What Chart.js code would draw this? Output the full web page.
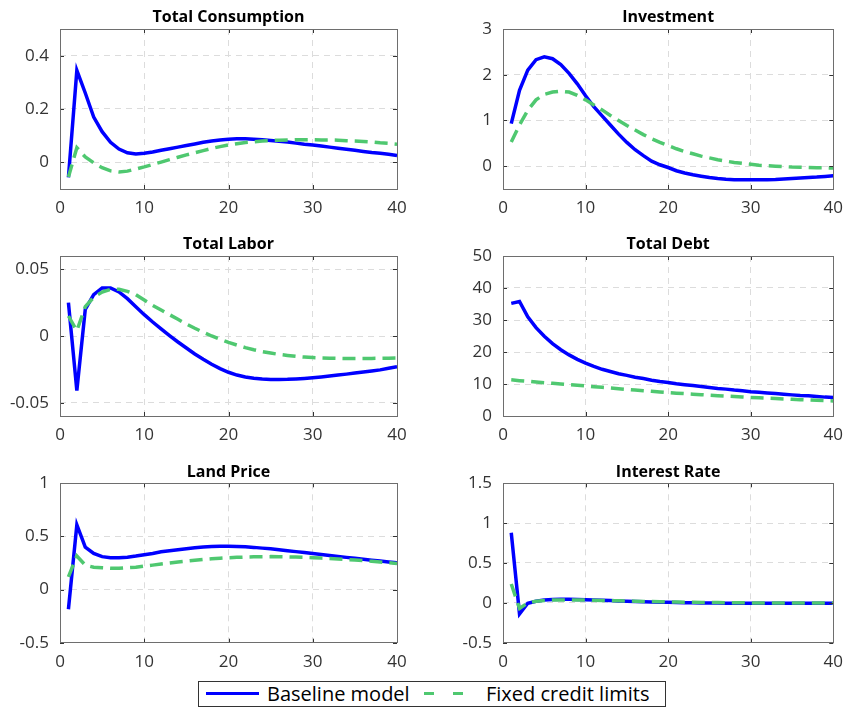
<!DOCTYPE html>
<html>
<head>
<meta charset="utf-8">
<script src="https://cdn.jsdelivr.net/npm/chart.js@4.4.1/dist/chart.umd.min.js"></script>
<style>
  body { margin: 0; background: #fff; width: 852px; height: 718px; position: relative; overflow: hidden; font-family: "Open Sans", sans-serif; }
  canvas { position: absolute; }
  #legend { position: absolute; left: 198px; top: 681px; width: 466px; height: 24px; border: 1px solid #333; background: #fff; }
  #legend span { position: absolute; top: -1px; line-height: 25px; font-size: 20px; color: #000; white-space: nowrap; }
  #legend i { position: absolute; height: 3px; }
</style>
</head>
<body>
<canvas id="c1" width="420" height="230" style="left:0;top:0"></canvas>
<canvas id="c2" width="432" height="230" style="left:420px;top:0"></canvas>
<canvas id="c3" width="420" height="230" style="left:0;top:230px"></canvas>
<canvas id="c4" width="432" height="230" style="left:420px;top:230px"></canvas>
<canvas id="c5" width="420" height="215" style="left:0;top:460px"></canvas>
<canvas id="c6" width="432" height="215" style="left:420px;top:460px"></canvas>

<div id="legend">
  <i style="left:7px;top:10px;width:53px;background:#0000ff"></i>
  <span style="left:68px">Baseline model</span>
  <i style="left:225px;top:10px;width:10px;background:#4fc870"></i>
  <i style="left:254px;top:10px;width:10px;background:#4fc870"></i>
  <span style="left:287px">Fixed credit limits</span>
</div>

<script>
// periodos (eje x)
var steps = [1, 2, 3, 4, 5, 6, 7, 8, 9, 10, 11, 12, 13, 14, 15, 16, 17, 18, 19, 20,
  21, 22, 23, 24, 25, 26, 27, 28, 29, 30, 31, 32, 33, 34, 35, 36, 37, 38, 39, 40];
var xTicks = [0, 10, 20, 30, 40];

// Total Consumption
var consTicks = [0, 0.2, 0.4];
var consBase = [-0.056, 0.345, 0.26, 0.17, 0.115, 0.075, 0.05, 0.036, 0.031, 0.034,
  0.039, 0.045, 0.051, 0.057, 0.063, 0.069, 0.075, 0.08, 0.084, 0.087,
  0.088, 0.088, 0.087, 0.085, 0.082, 0.079, 0.076, 0.072, 0.068, 0.065,
  0.061, 0.057, 0.053, 0.049, 0.045, 0.041, 0.037, 0.034, 0.03, 0.026];
var consFixed = [-0.055, 0.055, 0.02, -0.002, -0.02, -0.032, -0.036, -0.033, -0.025, -0.017,
  -0.008, 0.001, 0.01, 0.019, 0.028, 0.036, 0.044, 0.052, 0.059, 0.065,
  0.07, 0.074, 0.077, 0.08, 0.082, 0.083, 0.084, 0.085, 0.085, 0.085,
  0.084, 0.084, 0.083, 0.081, 0.08, 0.078, 0.076, 0.073, 0.071, 0.068];

// Investment
var invTicks = [0, 1, 2, 3];
var invBase = [0.93, 1.66, 2.1, 2.33, 2.39, 2.35, 2.22, 2.03, 1.8, 1.54,
  1.3, 1.1, 0.9, 0.7, 0.52, 0.36, 0.23, 0.11, 0.03, -0.03,
  -0.1, -0.15, -0.19, -0.22, -0.25, -0.27, -0.285, -0.295, -0.3, -0.3,
  -0.3, -0.295, -0.29, -0.28, -0.27, -0.26, -0.25, -0.24, -0.225, -0.21];
var invFixed = [0.53, 0.9, 1.22, 1.45, 1.57, 1.62, 1.64, 1.62, 1.55, 1.45,
  1.34, 1.23, 1.11, 1.0, 0.89, 0.79, 0.69, 0.6, 0.52, 0.45,
  0.38, 0.32, 0.27, 0.22, 0.18, 0.14, 0.11, 0.08, 0.06, 0.04,
  0.02, 0.01, 0.0, -0.01, -0.02, -0.025, -0.03, -0.035, -0.038, -0.04];

// Total Labor
var labTicks = [-0.05, 0, 0.05];
var labBase = [0.025, -0.041, 0.02, 0.031, 0.036, 0.036, 0.033, 0.028, 0.022, 0.016,
  0.0105, 0.0053, 0.0003, -0.0045, -0.009, -0.0135, -0.0175, -0.0212, -0.0245, -0.0272,
  -0.0293, -0.0307, -0.0317, -0.0323, -0.0326, -0.0326, -0.0325, -0.0322, -0.0318, -0.0313,
  -0.0307, -0.03, -0.0293, -0.0286, -0.0278, -0.027, -0.0262, -0.0254, -0.0242, -0.023];
var labFixed = [0.015, 0.004, 0.022, 0.029, 0.033, 0.035, 0.035, 0.0335, 0.031, 0.027,
  0.023, 0.0195, 0.016, 0.0125, 0.009, 0.0058, 0.0028, 0.0, -0.0025, -0.0048,
  -0.0068, -0.0087, -0.0103, -0.0117, -0.0128, -0.0138, -0.0146, -0.0153, -0.0158, -0.0162,
  -0.0165, -0.0167, -0.0168, -0.0169, -0.0169, -0.0169, -0.0168, -0.0167, -0.0166, -0.0165];

// Total Debt
var debtTicks = [0, 10, 20, 30, 40, 50];
var debtBase = [35.2, 35.8, 31.0, 27.6, 24.9, 22.6, 20.7, 19.1, 17.7, 16.5,
  15.5, 14.6, 13.9, 13.2, 12.7, 12.1, 11.7, 11.2, 10.8, 10.5,
  10.1, 9.8, 9.5, 9.2, 8.9, 8.6, 8.4, 8.1, 7.9, 7.6,
  7.4, 7.2, 7.0, 6.8, 6.6, 6.4, 6.3, 6.1, 5.9, 5.8];
var debtFixed = [11.3, 11.05, 10.85, 10.6, 10.4, 10.2, 10.0, 9.8, 9.6, 9.4,
  9.17, 8.95, 8.73, 8.52, 8.3, 8.1, 7.9, 7.7, 7.5, 7.3,
  7.14, 6.98, 6.82, 6.66, 6.5, 6.36, 6.22, 6.08, 5.94, 5.8,
  5.68, 5.56, 5.44, 5.32, 5.2, 5.1, 5.0, 4.9, 4.8, 4.7];

// Land Price
var landTicks = [-0.5, 0, 0.5, 1];
var landBase = [-0.185, 0.61, 0.4, 0.34, 0.31, 0.3, 0.3, 0.305, 0.315, 0.328,
  0.34, 0.355, 0.365, 0.375, 0.385, 0.393, 0.4, 0.405, 0.408, 0.408,
  0.406, 0.402, 0.397, 0.39, 0.383, 0.375, 0.366, 0.357, 0.348, 0.339,
  0.33, 0.321, 0.312, 0.303, 0.294, 0.285, 0.276, 0.268, 0.26, 0.252];
var landFixed = [0.12, 0.316, 0.23, 0.21, 0.205, 0.2, 0.2, 0.205, 0.21, 0.22,
  0.23, 0.24, 0.25, 0.26, 0.268, 0.276, 0.284, 0.29, 0.295, 0.3,
  0.303, 0.306, 0.308, 0.309, 0.31, 0.309, 0.308, 0.306, 0.303, 0.3,
  0.296, 0.292, 0.288, 0.283, 0.278, 0.272, 0.266, 0.259, 0.252, 0.245];

// Interest Rate
var rateTicks = [-0.5, 0, 0.5, 1, 1.5];
var rateBase = [0.88, -0.14, -0.005, 0.02, 0.035, 0.042, 0.045, 0.045, 0.043, 0.04,
  0.036, 0.032, 0.028, 0.024, 0.02, 0.017, 0.014, 0.011, 0.009, 0.006,
  0.004, 0.002, 0.0, -0.001, -0.002, -0.003, -0.004, -0.005, -0.006, -0.006,
  -0.006, -0.006, -0.006, -0.006, -0.006, -0.006, -0.006, -0.006, -0.006, -0.006];
var rateFixed = [0.236, -0.07, 0.0, 0.02, 0.03, 0.035, 0.037, 0.037, 0.036, 0.035,
  0.033, 0.031, 0.028, 0.026, 0.023, 0.021, 0.018, 0.016, 0.014, 0.012,
  0.01, 0.008, 0.007, 0.005, 0.004, 0.003, 0.002, 0.001, 0.0, -0.001,
  -0.001, -0.002, -0.002, -0.002, -0.003, -0.003, -0.003, -0.003, -0.003, -0.003];

var BLUE = "#0000ff";
var GREEN = "#4fc870";
var FONT = "'Open Sans', sans-serif";

// marco de los ejes con marcas hacia dentro (estilo MATLAB)
var boxTicks = {
  id: "boxTicks",
  afterDraw: function (chart) {
    var ctx = chart.ctx;
    var a = chart.chartArea;
    var x = chart.scales.x;
    var y = chart.scales.y;
    ctx.save();
    ctx.lineWidth = 1;
    ctx.strokeStyle = "#333";
    ctx.beginPath();
    x.ticks.forEach(function (t) {
      var px = Math.round(x.getPixelForValue(t.value)) + 0.5;
      ctx.moveTo(px, a.bottom); ctx.lineTo(px, a.bottom - 4);
      ctx.moveTo(px, a.top); ctx.lineTo(px, a.top + 4);
    });
    y.ticks.forEach(function (t) {
      var py = Math.round(y.getPixelForValue(t.value)) + 0.5;
      ctx.moveTo(a.left, py); ctx.lineTo(a.left + 4, py);
      ctx.moveTo(a.right, py); ctx.lineTo(a.right - 4, py);
    });
    ctx.stroke();
    ctx.strokeStyle = "#6e6e6e";
    ctx.strokeRect(Math.round(a.left) + 0.5, Math.round(a.top) + 0.5,
      Math.round(a.right - a.left), Math.round(a.bottom - a.top));
    ctx.restore();
  }
};

function makeChart(id, title, base, fixed, yMin, yMax, yTicks, lay) {
  var ctx = document.getElementById(id).getContext("2d");
  return new Chart(ctx, {
    type: "line",
    data: {
      labels: steps,
      datasets: [
        { label: "Fixed credit limits", data: fixed, borderColor: GREEN, borderWidth: 3.5,
          borderDash: [13, 7], pointRadius: 0, tension: 0, fill: false, order: 0 },
        { label: "Baseline model", data: base, borderColor: BLUE, borderWidth: 3.5,
          pointRadius: 0, tension: 0, fill: false, order: 1 }
      ]
    },
    options: {
      responsive: false,
      animation: false,
      events: [],
      layout: { padding: { left: 0, right: lay.right, top: 0, bottom: lay.bottom } },
      plugins: {
        legend: { display: false },
        tooltip: { enabled: false },
        title: {
          display: true,
          text: title,
          fullSize: false,
          color: "#000",
          font: { family: FONT, size: 16, weight: "bold" },
          padding: { top: lay.tTop, bottom: lay.tBottom }
        }
      },
      scales: {
        x: {
          type: "linear",
          min: 0,
          max: 40,
          ticks: { color: "#333", padding: 9, font: { family: FONT, size: 17 } },
          grid: { color: "#dcdcdc", drawTicks: false },
          border: { display: false, dash: [6, 5] },
          afterBuildTicks: function (s) { s.ticks = xTicks.map(function (v) { return { value: v }; }); },
          afterFit: function (s) { s.height = 30; }
        },
        y: {
          min: yMin,
          max: yMax,
          ticks: {
            color: "#333",
            padding: 11,
            font: { family: FONT, size: 17 },
            callback: function (v) { return String(Number(v.toFixed(4))); }
          },
          grid: { color: "#dcdcdc", drawTicks: false },
          border: { display: false, dash: [6, 5] },
          afterBuildTicks: function (s) { s.ticks = yTicks.map(function (v) { return { value: v }; }); },
          afterFit: function (s) { s.width = lay.yw; }
        }
      }
    },
    plugins: [boxTicks]
  });
}

var leftRow1 = { yw: 60, right: 23, bottom: 11, tTop: 7.4, tBottom: 2.4 };
var rightRow1 = { yw: 83, right: 12, bottom: 11, tTop: 7.4, tBottom: 2.4 };
var leftRow2 = { yw: 60, right: 23, bottom: 14, tTop: 4.4, tBottom: 2.4 };
var rightRow2 = { yw: 83, right: 12, bottom: 14, tTop: 4.4, tBottom: 2.4 };
var leftRow3 = { yw: 60, right: 23, bottom: 2.3, tTop: 2.4, tBottom: 1.7 };
var rightRow3 = { yw: 83, right: 12, bottom: 2.3, tTop: 2.4, tBottom: 1.7 };

makeChart("c1", "Total Consumption", consBase, consFixed, -0.1, 0.5, consTicks, leftRow1);
makeChart("c2", "Investment", invBase, invFixed, -0.5, 3, invTicks, rightRow1);
makeChart("c3", "Total Labor", labBase, labFixed, -0.06, 0.06, labTicks, leftRow2);
makeChart("c4", "Total Debt", debtBase, debtFixed, 0, 50, debtTicks, rightRow2);
makeChart("c5", "Land Price", landBase, landFixed, -0.5, 1, landTicks, leftRow3);
makeChart("c6", "Interest Rate", rateBase, rateFixed, -0.5, 1.5, rateTicks, rightRow3);
</script>
</body>
</html>
